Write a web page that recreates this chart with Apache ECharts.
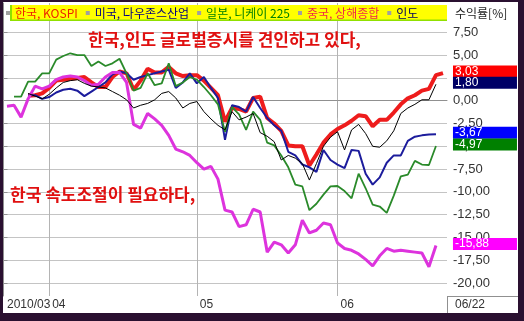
<!DOCTYPE html>
<html><head><meta charset="utf-8">
<script src="https://cdn.jsdelivr.net/npm/echarts@6/dist/echarts.min.js"></script>
<style>
html,body{margin:0;padding:0;background:#2a1030;width:524px;height:321px;overflow:hidden}
#c{position:absolute;left:3px;top:2px;width:515px;height:311px;background:#fff}
</style></head><body><div id="c"></div>
<script>
const dates = [
 '2010/03/24','2010/03/25','2010/03/26','2010/03/29','2010/03/30','2010/03/31',
 '2010/04/01','2010/04/05','2010/04/06','2010/04/07','2010/04/08','2010/04/09','2010/04/12','2010/04/13','2010/04/14','2010/04/15','2010/04/16','2010/04/19','2010/04/20','2010/04/21','2010/04/22','2010/04/23','2010/04/26','2010/04/27','2010/04/28','2010/04/29','2010/04/30',
 '2010/05/03','2010/05/04','2010/05/06','2010/05/07','2010/05/10','2010/05/11','2010/05/12','2010/05/13','2010/05/14','2010/05/17','2010/05/18','2010/05/19','2010/05/20','2010/05/21','2010/05/24','2010/05/25','2010/05/26','2010/05/27','2010/05/28','2010/05/31',
 '2010/06/01','2010/06/02','2010/06/03','2010/06/04','2010/06/07','2010/06/08','2010/06/09','2010/06/10','2010/06/11','2010/06/14','2010/06/15','2010/06/16','2010/06/17','2010/06/18','2010/06/21','2010/06/22'
];
const korea = [null,null,null,0.55,0.6,0.8,1.4,2.2,2.3,2.4,2.5,2.6,2.0,1.5,1.5,2.6,3.2,3.0,1.2,2.2,3.5,3.1,3.1,3.7,3.0,2.7,2.8,2.8,2.2,1.4,0.6,-2.3,-0.8,-0.9,-1.2,0.3,0.44,-1.9,-2.5,-3.3,-4.9,-5.0,-5.0,-7.1,-5.9,-4.6,-3.7,-3.1,-2.7,-2.2,-1.6,-1.7,-2.8,-2.1,-2.1,-1.3,-0.4,0.26,0.6,1.1,1.3,2.8,3.03];
const usa = [null,null,null,0.6,0.6,0.2,0.4,0.9,1.2,1.3,1.1,0.5,1.0,1.5,2.0,2.9,3.2,3.0,2.3,2.6,2.8,3.0,3.2,3.4,1.4,2.0,3.0,1.9,2.6,1.4,0.3,-4.3,-0.5,-0.7,-1.2,0.4,-0.8,-1.9,-2.7,-3.3,-5.6,-6.0,-7.0,-7.3,-7.8,-5.4,-6.5,-7.0,-7.4,-5.4,-5.5,-8.0,-9.2,-8.4,-6.8,-6.0,-6.0,-4.4,-3.95,-3.8,-3.7,-3.67,null];
const japan = [null,0.44,0.44,2.1,2.1,3.0,3.0,4.5,4.9,5.2,5.0,5.0,3.8,4.3,3.8,4.1,4.6,3.0,1.1,1.4,3.0,1.7,1.9,4.1,1.6,2.0,2.6,2.3,1.5,0.6,-0.4,-3.4,-0.7,-1.5,-3.2,-1.2,-2.1,-4.6,-4.9,-6.0,-7.3,-9.2,-9.4,-12.0,-11.3,-10.3,-9.4,-9.35,-9.9,-10.7,-8.0,-9.6,-11.4,-11.6,-12.3,-10.4,-8.3,-8.1,-6.6,-7.0,-7.05,-4.97,null];
const china = [-0.6,-0.5,-1.8,0.2,1.6,1.3,1.6,2.3,2.6,2.7,2.6,2.2,1.7,1.8,2.6,3.1,3.1,2.0,-2.6,-3.0,-1.4,-2.0,-2.7,-3.8,-5.3,-5.6,-6.0,-6.8,-7.5,-7.2,-8.6,-12.0,-12.2,-13.8,-13.6,-11.9,-12.2,-16.6,-15.5,-15.8,-16.7,-15.8,-13.1,-14.5,-14.2,-13.4,-13.6,-15.6,-16.2,-16.4,-16.8,-17.4,-18.1,-17.0,-16.2,-16.5,-16.4,-16.5,-16.6,-16.7,-18.2,-15.88,null];
const india = [null,null,null,0.8,0.5,0.2,0.7,1.4,2.0,2.2,2.3,1.9,1.6,1.5,1.4,1.0,0.6,0.1,-0.8,-0.5,-0.3,0.1,0.8,1.0,0.3,-0.8,-0.3,-0.1,-1.2,-2.0,-2.7,-3.2,-1.2,-2.1,-1.8,-1.4,-3.5,-3.9,-4.5,-6.5,-6.0,-6.3,-6.9,-8.7,-6.9,-5.0,-4.0,-3.4,-5.4,-3.2,-2.6,-3.6,-5.0,-5.1,-4.4,-3.3,-1.4,-0.8,-0.4,0.1,0.1,1.8,null];

const seriesNames = ['한국, KOSPI','미국, 다우존스산업','일본, 니케이 225','중국, 상해종합','인도'];
const yTicks = [-20,-17.5,-15,-12.5,-10,-7.5,-5,-2.5,0,2.5,5,7.5];
const xTickIndex = [0,6,27,47,62];
const xTickLabels = ['2010/03','04','05','06','06/22'];
const monthStartIndex = [6,27,47];
const yMin = -21.41, yMax = 10.71;

const fmt = v => v.toFixed(2).replace('.', ',');

const chart = echarts.init(document.getElementById('c'), null, {renderer:'canvas'});

function lineSeries(name, data, color, width, labelBg, dist, z) {
  return {
    name, type:'line', data, xAxisIndex:1, yAxisIndex:1, symbol:'none', showSymbol:false,
    connectNulls:false, z,
    lineStyle:{color, width}, itemStyle:{color},
    endLabel:{
      show:true, distance:dist, offset:[0,-1.5],
      formatter: p => fmt(p.value),
      color:'#fff', backgroundColor:labelBg, width:62, height:12, lineHeight:12,
      padding:[0,0,0,2], fontSize:12, fontFamily:'Liberation Sans', align:'left'
    }
  };
}

const grayLbl = '#a0a0a0';
chart.setOption({
  animation:false,
  grid:[
    {left:0.5, top:1, width:443.5, height:293},
    {left:4, top:1, width:436, height:293}
  ],
  xAxis:[
    {gridIndex:0, type:'value', min:0, max:1, axisLabel:{show:false}, axisTick:{show:false},
     splitLine:{show:false}, axisLine:{show:true, lineStyle:{color:'#909090'}}},
    {gridIndex:1, type:'category', boundaryGap:false, data:dates,
     axisLine:{show:false},
     axisTick:{show:true, length:17, interval:(i)=>monthStartIndex.includes(i), lineStyle:{color:'#a8a8a8'}},
     splitLine:{show:true, interval:(i)=>monthStartIndex.includes(i), lineStyle:{color:'#b4b4b4'}},
     axisLabel:{
       interval:(i)=>xTickIndex.includes(i), margin:3, align:'left',
       formatter:(v,i)=>{ const k = xTickIndex.indexOf(i); if (k<0) return '';
         const tag = k===0 ? 'a' : (k===xTickIndex.length-1 ? 'c' : 'b');
         return '{'+tag+'|'+xTickLabels[k]+'}'; },
       rich:{
         a:{fontSize:12, fontFamily:'Liberation Sans', color:'#333', padding:[0,0,0,0]},
         b:{fontSize:12, fontFamily:'Liberation Sans', color:'#333', padding:[0,0,0,3]},
         c:{fontSize:12, fontFamily:'Liberation Sans', color:'#333', padding:[0,0,0,12]}
       }
     }}
  ],
  yAxis:[
    {gridIndex:0, type:'value', position:'right', min:yMin, max:yMax,
     axisLine:{show:true, lineStyle:{color:'#909090'}},
     axisTick:{show:true, length:4, customValues:yTicks, lineStyle:{color:'#909090'}},
     axisLabel:{customValues:yTicks, formatter:fmt, margin:6, fontSize:13, fontFamily:'Liberation Sans', color:'#333'},
     splitLine:{show:true, lineStyle:{color:'#c4c4c4'}}},
    {gridIndex:1, type:'value', min:yMin, max:yMax, show:false}
  ],
  legend:{
    left:3, top:4, padding:0, itemWidth:4, itemHeight:4, itemGap:8, icon:'rect',
    selectedMode:false, z:100,
    textStyle:{fontFamily:'Noto Sans CJK KR', fontSize:12, lineHeight:14},
    data:[
      {name:seriesNames[0], itemStyle:{color:grayLbl}, textStyle:{color:'#ee2200'}},
      {name:seriesNames[1], itemStyle:{color:grayLbl}, textStyle:{color:'#000080'}},
      {name:seriesNames[2], itemStyle:{color:grayLbl}, textStyle:{color:'#008000'}},
      {name:seriesNames[3], itemStyle:{color:grayLbl}, textStyle:{color:'#f02848'}},
      {name:seriesNames[4], itemStyle:{color:grayLbl}, textStyle:{color:'#000060'}}
    ]
  },
  series:[
    lineSeries(seriesNames[0], korea, '#ee1c1c', 4, '#ff0000', 10, 2),
    lineSeries(seriesNames[1], usa, '#1c1c9c', 2, '#0000ff', 17, 3),
    lineSeries(seriesNames[2], japan, '#2a8a2a', 1.8, '#008000', 17, 3),
    lineSeries(seriesNames[3], china, '#dd33dd', 3, '#ff00ff', 17, 4),
    lineSeries(seriesNames[4], india, '#000000', 1, '#000066', 17, 5)
  ],
  graphic:[
    {type:'rect', z:50, shape:{x:8, y:3, width:436, height:16}, style:{fill:'#ffff00'}},
    {type:'rect', z:51, shape:{x:7, y:3, width:2, height:16}, style:{fill:'#90e000'}},
    {type:'rect', z:51, shape:{x:7, y:17.5, width:437, height:1.5}, style:{fill:'#90e000'}},
    {type:'text', z:60, x:85, y:38, style:{text:'한국,인도 글로벌증시를 견인하고 있다,', fill:'#e01010',
      font:'bold 17px "Noto Sans CJK KR"', verticalAlign:'middle', textVerticalAlign:'middle'}},
    {type:'text', z:60, x:7, y:193, style:{text:'한국 속도조절이 필요하다,', fill:'#e01010',
      font:'bold 17px "Noto Sans CJK KR"', verticalAlign:'middle', textVerticalAlign:'middle'}},
    {type:'text', z:60, x:452, y:11, style:{text:'수익률[%]', fill:'#222',
      font:'12px "Noto Sans CJK KR"', verticalAlign:'middle', textVerticalAlign:'middle'}},
    {type:'line', z:40, shape:{x1:444.5, y1:294, x2:444.5, y2:311}, style:{stroke:'#909090', lineWidth:1}},
    {type:'line', z:40, shape:{x1:444, y1:294.5, x2:515, y2:294.5}, style:{stroke:'#909090', lineWidth:1}}
  ]
});
</script></body></html>
